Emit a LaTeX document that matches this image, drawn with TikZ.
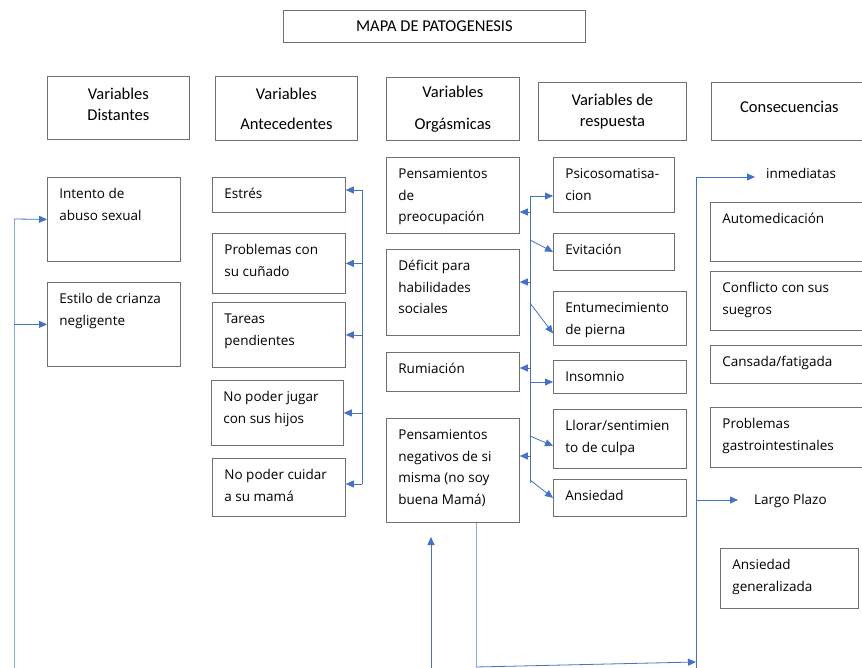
\documentclass[tikz,border=0pt]{standalone}
\usepackage{fontspec}
\setmainfont{Open Sans}
\newfontfamily\calibri{Carlito}
\usepackage{xcolor}
\usepackage{tikz}
\usetikzlibrary{arrows.meta}

\definecolor{azul}{HTML}{4472C4}
\definecolor{borde}{HTML}{707070}
\newcommand{\celda}[3]{\parbox[t][#2pt][t]{#1pt}{\raggedright\rule{0pt}{21.5pt}#3}}
\newcommand{\bajo}[1]{\rule[-#1pt]{0pt}{#1pt}}

\tikzset{
  caja/.style={draw=borde, line width=0.8pt, anchor=north west, inner xsep=12pt, inner ysep=0pt, font=\fontsize{13.5}{21.5}\selectfont},
  titulo/.style={draw=borde, line width=0.8pt, anchor=north west, inner sep=0pt, align=center, font=\calibri\fontsize{16.5}{21}\selectfont},
  etiqueta/.style={anchor=west, inner sep=0pt, font=\fontsize{13.5}{21.5}\selectfont},
  linea/.style={azul, line width=0.8pt},
  lineaclara/.style={azul!60, line width=0.7pt},
  flecha/.style={azul, line width=0.8pt, -{Triangle[length=8pt,width=7pt]}},
}

\begin{document}
\begin{tikzpicture}[x=1pt, y=-1pt]
\useasboundingbox (0,0) rectangle (862,668);

% titulo y encabezados
\node[titulo, minimum width=302pt, minimum height=32pt] (mapa) at (283,10) {MAPA DE PATOGENESIS};
\node[titulo, minimum width=142pt, minimum height=63pt] (hdist) at (47,76) {Variables\\Distantes\bajo{8}};
\node[titulo, minimum width=142pt, minimum height=64pt] (hante) at (215,76) {Variables\\[9pt]Antecedentes};
\node[titulo, minimum width=133pt, minimum height=63pt] (horg) at (386,77) {Variables\\[11pt]Orgásmicas};
\node[titulo, minimum width=148pt, minimum height=58pt] (hresp) at (538,82) {Variables de\\respuesta};
\node[titulo, minimum width=156pt, minimum height=58pt] (hcons) at (711,82) {Consecuencias\bajo{10}};

% variables distantes
\node[caja] (intento) at (47,177) {\celda{109}{84}{Intento de\\abuso sexual}};
\node[caja] (estilo) at (47,282) {\celda{109}{84}{Estilo de crianza\\negligente}};

% variables antecedentes
\node[caja] (estres) at (212,177) {\celda{109}{35}{Estrés}};
\node[caja] (cunado) at (212,233) {\celda{109}{60}{Problemas con\\su cuñado}};
\node[caja] (tareas) at (212,302) {\celda{109}{65}{Tareas\\pendientes}};
\node[caja] (jugar) at (211,380) {\celda{108}{65}{No poder jugar\\con sus hijos}};
\node[caja] (cuidar) at (212,458) {\celda{109}{58}{No poder cuidar\\a su mamá}};

% variables orgasmicas
\node[caja] (preoc) at (386,157) {\celda{109}{76}{Pensamientos\\de\\preocupación}};
\node[caja] (deficit) at (386,249) {\celda{109}{86}{Déficit para\\habilidades\\sociales}};
\node[caja] (rumia) at (386,352) {\celda{109}{39}{Rumiación}};
\node[caja] (pneg) at (386,418) {\celda{109}{104}{Pensamientos\\negativos de si\\misma (no soy\\buena Mamá)}};

% variables de respuesta
\node[caja] (psico) at (553,157) {\celda{97}{55}{Psicosomatisa-\\cion}};
\node[caja] (evita) at (553,233) {\celda{97}{37}{Evitación}};
\node[caja] (entum) at (553,291) {\celda{109}{54}{Entumecimiento\\de pierna}};
\node[caja] (insom) at (553,360) {\celda{109}{33}{Insomnio}};
\node[caja] (llorar) at (553,409) {\celda{109}{59}{Llorar/sentimien\\to de culpa}};
\node[caja] (ansie) at (553,479) {\celda{109}{37}{Ansiedad}};

% consecuencias
\node[etiqueta] (inmed) at (766,173) {inmediatas};
\node[caja] (autom) at (710,202) {\celda{132}{59}{Automedicación}};
\node[caja] (confl) at (710,271) {\celda{132}{59}{Conflicto con sus\\suegros}};
\node[caja] (cansa) at (710,345) {\celda{132}{38}{Cansada/fatigada}};
\node[caja] (gastro) at (710,407) {\celda{132}{60}{Problemas\\gastrointestinales}};
\node[etiqueta] (largo) at (754,501) {Largo Plazo};
\node[caja] (ansgen) at (720,548) {\celda{114}{60}{Ansiedad\\generalizada}};

% conectores columna 1
\coordinate (c1) at (14,668);
\coordinate (c1a) at (14,219);
\draw[lineaclara] (c1) -- (c1a);
\draw[flecha] (c1a) -- (intento.west);
\draw[flecha] (c1 |- estilo.west) -- (estilo.west);

% conectores columna 2
\coordinate (c2a) at (362,190);
\coordinate (c2b) at (362,484);
\draw[linea] (c2a) -- (c2b);
\draw[flecha] (c2a) -- (c2a -| estres.east);
\draw[flecha] (c2a |- cunado.east) -- (cunado.east);
\draw[flecha] (c2a |- tareas.east) -- (tareas.east);
\draw[flecha] (c2a |- jugar.east) -- (jugar.east);
\draw[flecha] (c2b) -- (c2b -| cuidar.east);

% conectores columna 3
\coordinate (c3a) at (530,196);
\coordinate (c3b) at (530,483);
\coordinate (p1) at (530,212);
\coordinate (p2) at (530,282);
\coordinate (p3) at (530,368);
\coordinate (p4) at (530,456);
\draw[linea] (c3a) -- (c3b);
\draw[flecha] (p1) -- (p1 -| preoc.east);
\draw[flecha] (p2) -- (p2 -| deficit.east);
\draw[flecha] (p3) -- (p3 -| rumia.east);
\draw[flecha] (p4) -- (p4 -| pneg.east);

\coordinate (q1) at (530,240);
\coordinate (q2) at (530,303);
\coordinate (q3) at (530,382);
\coordinate (q4) at (530,436);
\coordinate (q5) at (530,480);
\draw[flecha] (c3a) -- (c3a -| psico.west);
\draw[flecha] (q1) -- (evita.west);
\draw[flecha] (q2) -- ([yshift=-15pt]entum.west);
\draw[flecha] (q3) -- (q3 -| insom.west);
\draw[flecha] (q4) -- ([yshift=-7pt]llorar.west);
\draw[flecha] (q5) -- (ansie.west);

% conectores columna 5
\coordinate (c5a) at (696,177);
\coordinate (c5b) at (696,668);
\coordinate (c5c) at (696,500);
\draw[linea] (c5a) -- (c5b);
\draw[flecha, shorten >=11pt] (c5a) -- (c5a -| inmed.west);
\draw[flecha, shorten >=16pt] (c5c) -- (c5c -| largo.west);

% conectores inferiores
\coordinate (b1) at (431,668);
\coordinate (b2) at (431,537);
\coordinate (b3) at (476,667);
\coordinate (b4) at (696,662);
\draw[flecha] (b1) -- (b2);
\draw[lineaclara] (b3 |- pneg.south) -- (b3);
\draw[flecha] (b3) -- (b4);
\end{tikzpicture}
\end{document}
